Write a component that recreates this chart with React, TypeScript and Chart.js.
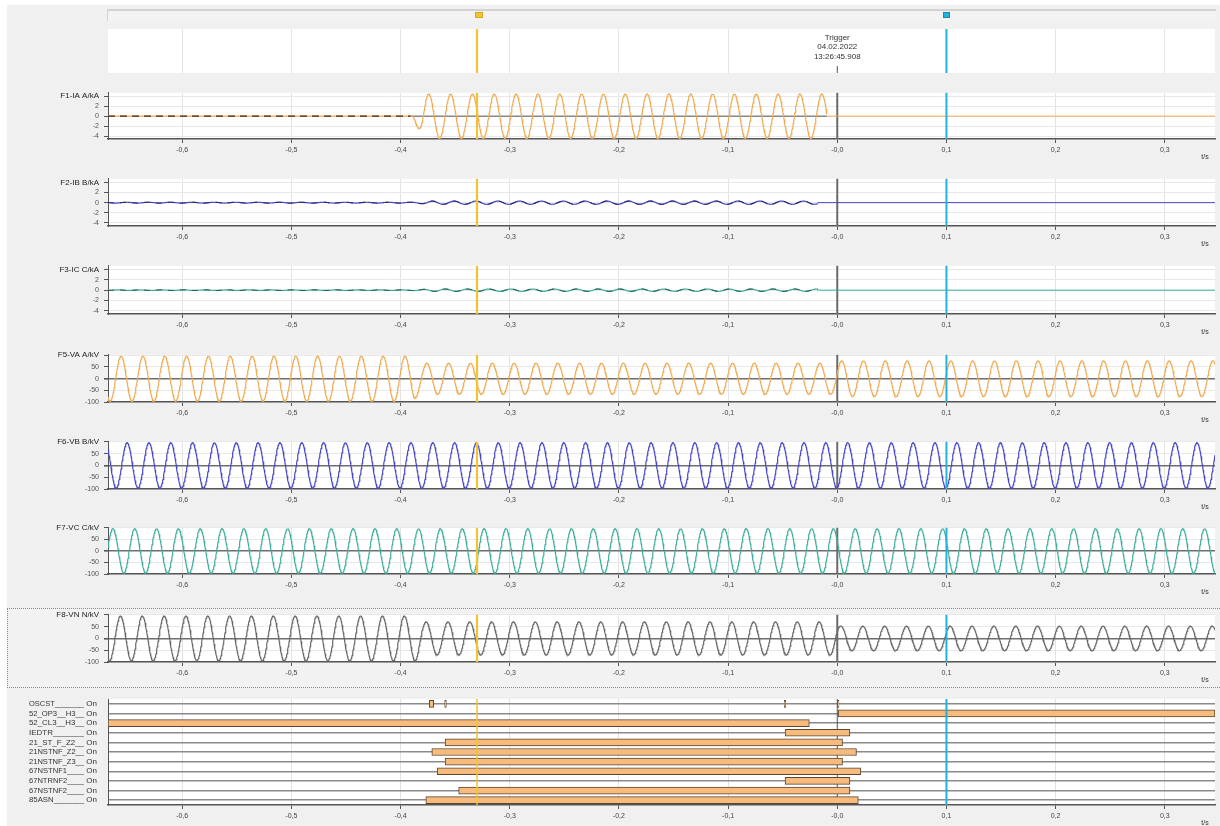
import React, { useEffect, useRef } from 'react';
import { Chart, registerables } from 'chart.js';

Chart.register(...registerables);

const FONT = "'Liberation Sans', Arial, Helvetica, sans-serif";

// ---------- time axis ----------
const T_MIN = -0.668;
const T_MAX = 0.346;
const X_TICKS = [-0.6, -0.5, -0.4, -0.3, -0.2, -0.1, 0, 0.1, 0.2, 0.3];
const X_TICK_LABELS = ['-0,6', '-0,5', '-0,4', '-0,3', '-0,2', '-0,1', '-0,0', '0,1', '0,2', '0,3'];
const TIME_UNIT = 't/s';
const TRIGGER_T = 0;
const CURSOR_YELLOW_T = -0.33;
const CURSOR_CYAN_T = 0.1;
const TRIGGER_TEXT = ['Trigger', '04.02.2022', '13:26:45.908'];

const FREQ_HZ = 50;
const SAMPLE_STEP = 0.0004;

const CURRENT_TICKS = [-4, -2, 0, 2, 4];
const VOLTAGE_TICKS = [-100, -50, 0, 50, 100];

// ---------- analog channels (envelope breakpoints in s, peak amplitude, time of a positive peak) ----------
const IA_NAME = 'F1-IA A/kA';
const IA_ENV_T = [-0.668, -0.3905, -0.378, -0.0095];
const IA_ENV_A = [0, 0, 4.45, 4.45];
const IA_PEAK_T = -0.3742;
const IA_END_T = -0.0095;
const IA_DASH_END_T = -0.3905;

const IB_NAME = 'F2-IB B/kA';
const IB_ENV_T = [-0.668, -0.39, -0.37, -0.018];
const IB_ENV_A = [0.08, 0.08, 0.32, 0.32];
const IB_PEAK_T = -0.291;
const IB_END_T = -0.018;
const IB_DASH_END_T = -0.018;

const IC_NAME = 'F3-IC C/kA';
const IC_ENV_T = [-0.668, -0.39, -0.37, -0.018];
const IC_ENV_A = [0.06, 0.06, 0.22, 0.22];
const IC_PEAK_T = -0.299;
const IC_END_T = -0.018;
const IC_DASH_END_T = -0.018;

const VA_NAME = 'F5-VA A/kV';
const VA_ENV_T = [-0.668, -0.389, -0.383, -0.001, 0.001, 0.346];
const VA_ENV_A = [96, 96, 66, 66, 76, 76];
const VA_PEAK_T = -0.656;

const VB_NAME = 'F6-VB B/kV';
const VB_ENV_T = [-0.668, 0.346];
const VB_ENV_A = [96, 96];
const VB_PEAK_T = -0.6505;

const VC_NAME = 'F7-VC C/kV';
const VC_ENV_T = [-0.668, 0.346];
const VC_ENV_A = [96, 96];
const VC_PEAK_T = -0.6635;

const VN_NAME = 'F8-VN N/kV';
const VN_ENV_T = [-0.668, -0.386, -0.379, -0.003, 0.003, 0.346];
const VN_ENV_A = [95, 95, 70, 70, 52, 52];
const VN_PEAK_T = -0.6566;

// ---------- digital channels ----------
const DIG_NAMES = [
  'OSCST_______', '52_OP3__H3__', '52_CL3__H3__', 'IEDTR_______', '21_ST_F_Z2__',
  '21NSTNF_Z2__', '21NSTNF_Z3__', '67NSTNF1____', '67NTRNF2____', '67NSTNF2____', '85ASN_______',
];
const DIG_STATE = 'On';
const OSCST_ON = [[-0.3737, -0.3697], [-0.3596, -0.3581], [-0.0486, -0.0472], [0.0003, 0.0016]];
const OP3_ON = [[0.0008, 0.346]];
const CL3_ON = [[-0.668, -0.0256]];
const IEDTR_ON = [[-0.0478, 0.0116]];
const ST_F_Z2_ON = [[-0.3592, 0.0048]];
const NSTNF_Z2_ON = [[-0.3714, 0.0176]];
const NSTNF_Z3_ON = [[-0.3592, 0.0048]];
const NSTNF1_ON = [[-0.3665, 0.0216]];
const NTRNF2_ON = [[-0.0478, 0.0116]];
const NSTNF2_ON = [[-0.3468, 0.0116]];
const ASN85_ON = [[-0.3769, 0.0193]];
const DIG_INTERVALS = [OSCST_ON, OP3_ON, CL3_ON, IEDTR_ON, ST_F_Z2_ON, NSTNF_Z2_ON, NSTNF_Z3_ON, NSTNF1_ON, NTRNF2_ON, NSTNF2_ON, ASN85_ON];

// ---------- styling ----------
const C_ORANGE = '#eeac55';
const C_BLUE = '#4848c6';
const C_TEAL = '#3fae9f';
const C_GRAY = '#686868';
const C_YELLOW = '#f3c332';
const C_CYAN = '#22b2dc';

const PAD_TOP = 8;
const AXIS_H = 28;
const LEFT_PAD = 8;
const Y_AXIS_W = 100;
const RIGHT_PAD = 5;

function envelopeAt(ts: number[], as: number[], t: number) {
  if (t <= ts[0]) return as[0];
  for (let i = 1; i < ts.length; i++) {
    if (t <= ts[i]) {
      const f = (t - ts[i - 1]) / (ts[i] - ts[i - 1] || 1);
      return as[i - 1] + f * (as[i] - as[i - 1]);
    }
  }
  return as[as.length - 1];
}

function sampleWave(ts: number[], as: number[], peakT: number, t0: number, t1: number) {
  const pts: { x: number; y: number }[] = [];
  const n = Math.max(1, Math.round((t1 - t0) / SAMPLE_STEP));
  for (let i = 0; i <= n; i++) {
    const t = t0 + ((t1 - t0) * i) / n;
    const a = envelopeAt(ts, as, t);
    pts.push({ x: t, y: a * Math.cos(2 * Math.PI * FREQ_HZ * (t - peakT)) });
  }
  return pts;
}

function flat(t0: number, t1: number) {
  return [{ x: t0, y: 0 }, { x: t1, y: 0 }];
}

function vline(ctx: CanvasRenderingContext2D, x: number, y0: number, y1: number, color: string, w: number) {
  ctx.save();
  ctx.strokeStyle = color;
  ctx.lineWidth = w;
  ctx.beginPath();
  ctx.moveTo(x, y0);
  ctx.lineTo(x, y1);
  ctx.stroke();
  ctx.restore();
}

const overlayPlugin = {
  id: 'overlay',
  beforeDraw(chart: any) {
    const { ctx, chartArea: a } = chart;
    ctx.save();
    ctx.fillStyle = '#ffffff';
    ctx.fillRect(a.left, a.top, a.right - a.left, a.bottom - a.top);
    ctx.restore();
  },
  beforeDatasetsDraw(chart: any, _args: any, opts: any) {
    const { ctx, chartArea: a } = chart;
    if (opts.trigger) {
      const x = chart.scales.x.getPixelForValue(TRIGGER_T);
      vline(ctx, x, a.top, a.bottom, opts.triggerColor || '#6a6a6a', opts.triggerW || 2);
    }
  },
  afterDatasetsDraw(chart: any, _args: any, opts: any) {
    const { ctx, chartArea: a } = chart;
    const sx = chart.scales.x;
    vline(ctx, sx.getPixelForValue(CURSOR_YELLOW_T), a.top, a.bottom, C_YELLOW, opts.yellowW || 2.2);
    vline(ctx, sx.getPixelForValue(CURSOR_CYAN_T), a.top, a.bottom, C_CYAN, 2);
    ctx.save();
    ctx.fillStyle = '#333';
    if (opts.unit) {
      ctx.font = `7px ${FONT}`;
      ctx.textAlign = 'center';
      ctx.textBaseline = 'middle';
      ctx.fillText(TIME_UNIT, a.right - 10, a.bottom + 18.5);
    }
    if (opts.triggerText) {
      const x = sx.getPixelForValue(TRIGGER_T);
      ctx.font = `8px ${FONT}`;
      ctx.textAlign = 'center';
      ctx.textBaseline = 'middle';
      TRIGGER_TEXT.forEach((s, i) => ctx.fillText(s, x, a.top + 8.5 + i * 9.6));
      ctx.restore();
      vline(ctx, x, a.top + 37, a.top + 44, '#555', 1);
      ctx.save();
    }
    if (opts.digital) {
      const sy = chart.scales.y;
      ctx.font = `8px ${FONT}`;
      ctx.textBaseline = 'middle';
      DIG_NAMES.forEach((name, i) => {
        const y = sy.getPixelForTick(i);
        ctx.textAlign = 'left';
        ctx.fillText(name, 29, y, 55);
        ctx.textAlign = 'right';
        ctx.fillText(DIG_STATE, 97, y);
      });
    }
    ctx.restore();
  },
};

function xScale(showTicks: boolean, hideZeroGrid: boolean) {
  return {
    type: 'linear',
    min: T_MIN,
    max: T_MAX,
    afterBuildTicks: (s: any) => {
      s.ticks = X_TICKS.map((v) => ({ value: v }));
    },
    afterFit: (s: any) => {
      s.height = showTicks ? AXIS_H : 0;
    },
    ticks: {
      display: showTicks,
      autoSkip: false,
      maxRotation: 0,
      padding: 3,
      color: '#444',
      font: { family: FONT, size: 7 },
      callback: (_v: any, i: number) => X_TICK_LABELS[i],
    },
    grid: {
      color: (c: any) => (hideZeroGrid && c.tick && Math.abs(c.tick.value) < 1e-9 ? 'rgba(0,0,0,0)' : '#e3e3e3'),
      tickColor: '#555',
      tickLength: 4,
      drawTicks: showTicks,
    },
    border: { display: showTicks, color: '#555', width: 1.5 },
  };
}

type LinePanel = {
  name: string;
  yMin: number;
  yMax: number;
  yTicks: number[];
  zeroDark: boolean;
  datasets: any[];
};

function lineConfig(p: LinePanel): any {
  const topTick = p.yTicks[p.yTicks.length - 1];
  return {
    type: 'line',
    data: { datasets: p.datasets },
    options: {
      animation: false,
      responsive: false,
      events: [],
      parsing: false,
      layout: { padding: { top: PAD_TOP, left: LEFT_PAD, right: RIGHT_PAD, bottom: 0 } },
      plugins: {
        legend: { display: false },
        tooltip: { enabled: false },
        overlay: { trigger: true, unit: true },
      },
      elements: { point: { radius: 0 }, line: { tension: 0, borderWidth: 1.2 } },
      scales: {
        x: xScale(true, true),
        y: {
          type: 'linear',
          min: p.yMin,
          max: p.yMax,
          afterBuildTicks: (s: any) => {
            s.ticks = p.yTicks.map((v) => ({ value: v }));
          },
          afterFit: (s: any) => {
            s.width = Y_AXIS_W;
          },
          ticks: {
            autoSkip: false,
            padding: 5,
            color: (c: any) => (c.tick && c.tick.value === topTick ? '#222' : '#555'),
            font: (c: any) => ({ family: FONT, size: c.tick && c.tick.value === topTick ? 8 : 7 }),
            callback: (v: any) => (v === topTick ? p.name : String(v)),
          },
          grid: {
            color: (c: any) => (p.zeroDark && c.tick && c.tick.value === 0 ? '#6e6e6e' : '#e8e8e8'),
            lineWidth: (c: any) => (p.zeroDark && c.tick && c.tick.value === 0 ? 1.6 : 1),
            tickColor: '#555',
            tickLength: 4,
          },
          border: { color: '#555', width: 1 },
        },
      },
    },
    plugins: [overlayPlugin],
  };
}

function line(data: any[], color: string, order: number, extra: any = {}) {
  return { data, borderColor: color, borderWidth: 1.2, order, fill: false, ...extra };
}

function currentPanel(name: string, envT: number[], envA: number[], peakT: number, endT: number, dashEnd: number, color: string, dashColor: string, darkZero: boolean) {
  const wave = sampleWave(envT, envA, peakT, T_MIN, endT);
  const dash = wave.filter((p) => p.x <= dashEnd);
  const ds = [
    line(dash, dashColor, 0, { borderDash: darkZero ? [7, 5] : [6, 6], borderWidth: darkZero ? 1.3 : 1 }),
    line(wave, color, 1),
    line(flat(endT, T_MAX), color, 1, { borderWidth: 1 }),
  ];
  if (darkZero) ds.push(line(flat(dashEnd, endT), '#555', 2, { borderWidth: 1 }));
  return lineConfig({ name, yMin: -4.6, yMax: 4.7, yTicks: CURRENT_TICKS, zeroDark: false, datasets: ds });
}

function voltagePanel(name: string, envT: number[], envA: number[], peakT: number, color: string, yMax: number) {
  const wave = sampleWave(envT, envA, peakT, T_MIN, T_MAX);
  return lineConfig({ name, yMin: -100, yMax, yTicks: VOLTAGE_TICKS, zeroDark: true, datasets: [line(wave, color, 0)] });
}

function triggerConfig(): any {
  return {
    type: 'line',
    data: { datasets: [] },
    options: {
      animation: false,
      responsive: false,
      events: [],
      layout: { padding: { top: 0, left: LEFT_PAD + Y_AXIS_W, right: RIGHT_PAD, bottom: 0 } },
      plugins: { legend: { display: false }, tooltip: { enabled: false }, overlay: { trigger: false, unit: false, triggerText: true } },
      scales: {
        x: xScale(false, true),
        y: { display: false, min: 0, max: 1 },
      },
    },
    plugins: [overlayPlugin],
  };
}

function digitalConfig(): any {
  const maxN = Math.max(...DIG_INTERVALS.map((r) => r.length));
  const datasets = [];
  for (let k = 0; k < maxN; k++) {
    datasets.push({
      data: DIG_INTERVALS.map((r) => (r[k] ? r[k] : null)),
      backgroundColor: '#f7bb7e',
      borderColor: '#5b4631',
      borderWidth: 1,
      borderSkipped: false,
      barThickness: 7,
      grouped: false,
    });
  }
  return {
    type: 'bar',
    data: { labels: DIG_NAMES, datasets },
    options: {
      indexAxis: 'y',
      animation: false,
      responsive: false,
      events: [],
      layout: { padding: { top: PAD_TOP, left: LEFT_PAD, right: RIGHT_PAD, bottom: 0 } },
      plugins: {
        legend: { display: false },
        tooltip: { enabled: false },
        overlay: { trigger: true, triggerW: 1, triggerColor: '#555', unit: true, digital: true, yellowW: 1.5 },
      },
      scales: {
        x: xScale(true, true),
        y: {
          type: 'category',
          afterFit: (s: any) => {
            s.width = Y_AXIS_W;
          },
          ticks: { display: false },
          grid: { offset: false, color: '#8a8a8a', lineWidth: 1.5, drawTicks: false },
          border: { color: '#555', width: 1 },
        },
      },
    },
    plugins: [overlayPlugin],
  };
}

// canvas placement: top (px), height (px), builder
const PANELS: { top: number; height: number; build: () => any }[] = [
  { top: 29, height: 44, build: triggerConfig },
  { top: 91 - PAD_TOP, height: 48 + PAD_TOP + AXIS_H, build: () => currentPanel(IA_NAME, IA_ENV_T, IA_ENV_A, IA_PEAK_T, IA_END_T, IA_DASH_END_T, C_ORANGE, '#3d2812', true) },
  { top: 177 - PAD_TOP, height: 49 + PAD_TOP + AXIS_H, build: () => currentPanel(IB_NAME, IB_ENV_T, IB_ENV_A, IB_PEAK_T, IB_END_T, IB_DASH_END_T, C_BLUE, '#1c1c50', false) },
  { top: 264 - PAD_TOP, height: 50 + PAD_TOP + AXIS_H, build: () => currentPanel(IC_NAME, IC_ENV_T, IC_ENV_A, IC_PEAK_T, IC_END_T, IC_DASH_END_T, C_TEAL, '#1f453c', false) },
  { top: 353 - PAD_TOP, height: 49 + PAD_TOP + AXIS_H, build: () => voltagePanel(VA_NAME, VA_ENV_T, VA_ENV_A, VA_PEAK_T, C_ORANGE, 102) },
  { top: 440 - PAD_TOP, height: 49 + PAD_TOP + AXIS_H, build: () => voltagePanel(VB_NAME, VB_ENV_T, VB_ENV_A, VB_PEAK_T, C_BLUE, 100) },
  { top: 526 - PAD_TOP, height: 48 + PAD_TOP + AXIS_H, build: () => voltagePanel(VC_NAME, VC_ENV_T, VC_ENV_A, VC_PEAK_T, C_TEAL, 100) },
  { top: 613 - PAD_TOP, height: 49 + PAD_TOP + AXIS_H, build: () => voltagePanel(VN_NAME, VN_ENV_T, VN_ENV_A, VN_PEAK_T, C_GRAY, 100) },
  { top: 699 - PAD_TOP, height: 106 + PAD_TOP + AXIS_H, build: digitalConfig },
];

export default function App() {
  const refs = useRef<(HTMLCanvasElement | null)[]>([]);

  useEffect(() => {
    document.body.style.margin = '0';
    const charts: Chart[] = [];
    PANELS.forEach((p, i) => {
      const c = refs.current[i];
      if (c) charts.push(new Chart(c, p.build()));
    });
    return () => charts.forEach((c) => c.destroy());
  }, []);

  return (
    <div style={{ position: 'relative', width: 1220, height: 826, overflow: 'hidden', background: '#ffffff', fontFamily: FONT }}>
      <style>{'body{margin:0}'}</style>
      <div style={{ position: 'absolute', left: 7, top: 5, right: 0, bottom: 0, background: '#f0f0f0' }} />
      {/* scroll / overview bar */}
      <div style={{ position: 'absolute', left: 107, top: 9, width: 1108, height: 10, borderTop: '2px solid #d2d2d2', borderLeft: '1px solid #d2d2d2', background: '#f3f3f3' }} />
      <div style={{ position: 'absolute', left: 475, top: 12, width: 6, height: 4, background: C_YELLOW, border: '1px solid #d8a820' }} />
      <div style={{ position: 'absolute', left: 943, top: 12, width: 5, height: 4, background: C_CYAN, border: '1px solid #1a8ab0' }} />
      {/* dotted frame of selected channel */}
      <div style={{ position: 'absolute', left: 7, top: 608, width: 1220, height: 78, borderTop: '1px dotted #8a8a8a', borderBottom: '1px dotted #8a8a8a', borderLeft: '1px dotted #8a8a8a', background: '#f2f2f2' }} />
      {PANELS.map((p, i) => (
        <canvas
          key={i}
          ref={(el) => {
            refs.current[i] = el;
          }}
          width={1220}
          height={p.height}
          style={{ position: 'absolute', left: 0, top: p.top, width: 1220, height: p.height, display: 'block' }}
        />
      ))}
    </div>
  );
}
